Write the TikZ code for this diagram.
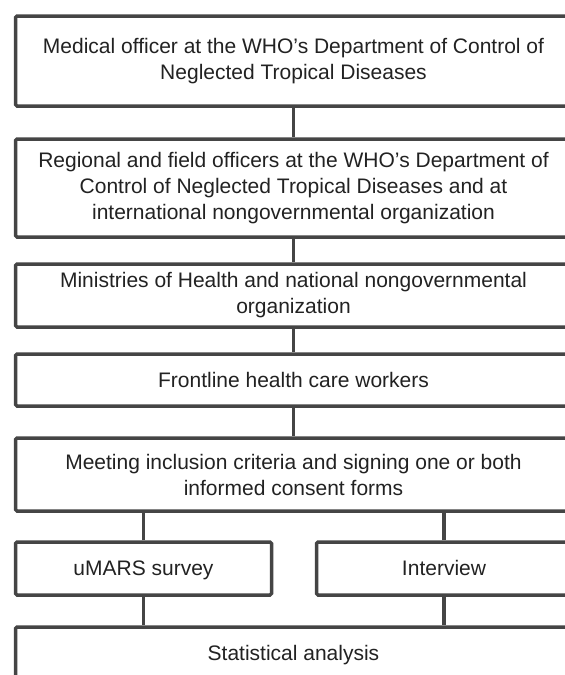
\documentclass[tikz,border=0pt]{standalone}
\usepackage{fontspec}
\setmainfont{Liberation Sans}
\definecolor{boxline}{HTML}{454545}
\definecolor{boxtext}{HTML}{222222}
\begin{document}
\begin{tikzpicture}[x=1pt,y=-1pt,
  flowbox/.style={draw=boxline, line width=3.5pt, rounded corners=1.5pt,
    fill=white, align=center, inner sep=0pt, text=boxtext,
    font=\fontsize{21}{26}\selectfont},
  oneline/.style={text height=17pt, text depth=2.5pt},
  link/.style={draw=boxline, line width=3.5pt}]
  \useasboundingbox (0,0) rectangle (565,675);
  \clip (0,0) rectangle (565,675);

  % main column of stages
  \node[flowbox, minimum width=556pt, minimum height=90pt] (b1) at (293.5,61)
    {Medical officer at the WHO’s Department of Control of\\Neglected Tropical Diseases};
  \node[flowbox, minimum width=556pt, minimum height=98pt] (b2) at (293.5,188)
    {Regional and field officers at the WHO’s Department of\\Control of Neglected Tropical Diseases and at\\international nongovernmental organization};
  \node[flowbox, minimum width=556pt, minimum height=63pt] (b3) at (293.5,295.5)
    {Ministries of Health and national nongovernmental\\organization};
  \node[flowbox, oneline, minimum width=556pt, minimum height=52pt] (b4) at (293.5,380)
    {Frontline health care workers};
  \node[flowbox, minimum width=556pt, minimum height=73pt] (b5) at (293.5,474.5)
    {Meeting inclusion criteria and signing one or both\\informed consent forms};

  % two parallel branches
  \node[flowbox, oneline, minimum width=256pt, minimum height=53pt] (survey) at (143.5,568.5)
    {uMARS survey};
  \node[flowbox, oneline, minimum width=255pt, minimum height=53pt] (interview) at (444,568.5)
    {Interview};

  % final stage
  \node[flowbox, oneline, minimum width=556pt, minimum height=53pt] (stats) at (293.5,653.5)
    {Statistical analysis};

  % connectors
  \draw[link] (b1.south) -- (b2.north);
  \draw[link] (b2.south) -- (b3.north);
  \draw[link] (b3.south) -- (b4.north);
  \draw[link] (b4.south) -- (b5.north);
  \draw[link] (survey.north) -- (survey.north |- b5.south);
  \draw[link] (interview.north) -- (interview.north |- b5.south);
  \draw[link] (survey.south) -- (survey.south |- stats.north);
  \draw[link] (interview.south) -- (interview.south |- stats.north);
\end{tikzpicture}
\end{document}
